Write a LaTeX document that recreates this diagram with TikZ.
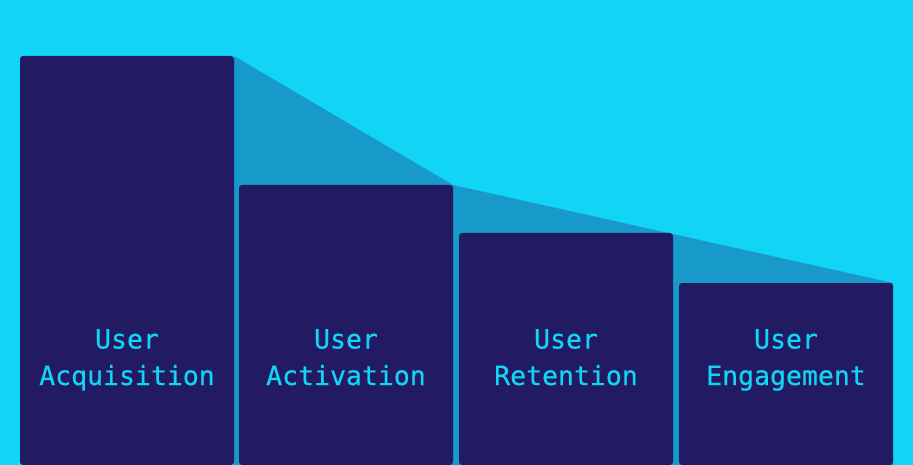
\documentclass[tikz,border=0pt]{standalone}
\usepackage{fontspec}
\newfontfamily\stagefont[FakeBold=0.4]{DejaVu Sans Mono}
\definecolor{sky}{HTML}{12D5F5}
\definecolor{ink}{HTML}{221A63}
\definecolor{drop}{HTML}{1799C9}
\tikzset{
  stage/.style={fill=ink, rounded corners=3pt},
  stage text/.style={text=sky, align=center, anchor=base,
    font=\stagefont\fontsize{26.5}{36.5}\selectfont}
}

\begin{document}
\begin{tikzpicture}[x=1pt,y=-1pt]
        \clip (0,0) rectangle (913,465);
        \fill[sky] (0,0) rectangle (913,465);
        % falling edge behind the bars
        \coordinate (A) at (234,56);
        \coordinate (B) at (453,185);
        \coordinate (C) at (893,283);
        \fill[drop] (A) -- (B) -- (C) -- (893,465) -- (234,465) -- cycle;
        \foreach \x/\y/\name/\txt in {20/56/acq/Acquisition, 239/185/act/Activation,
                                       459/233/ret/Retention, 679/283/eng/Engagement} {
            \path[stage] (\x,\y) rectangle (\x+214,465);
            \node[stage text] (\name) at (\x+107,385) {User\\\txt};
        }
    \end{tikzpicture}
\end{document}
